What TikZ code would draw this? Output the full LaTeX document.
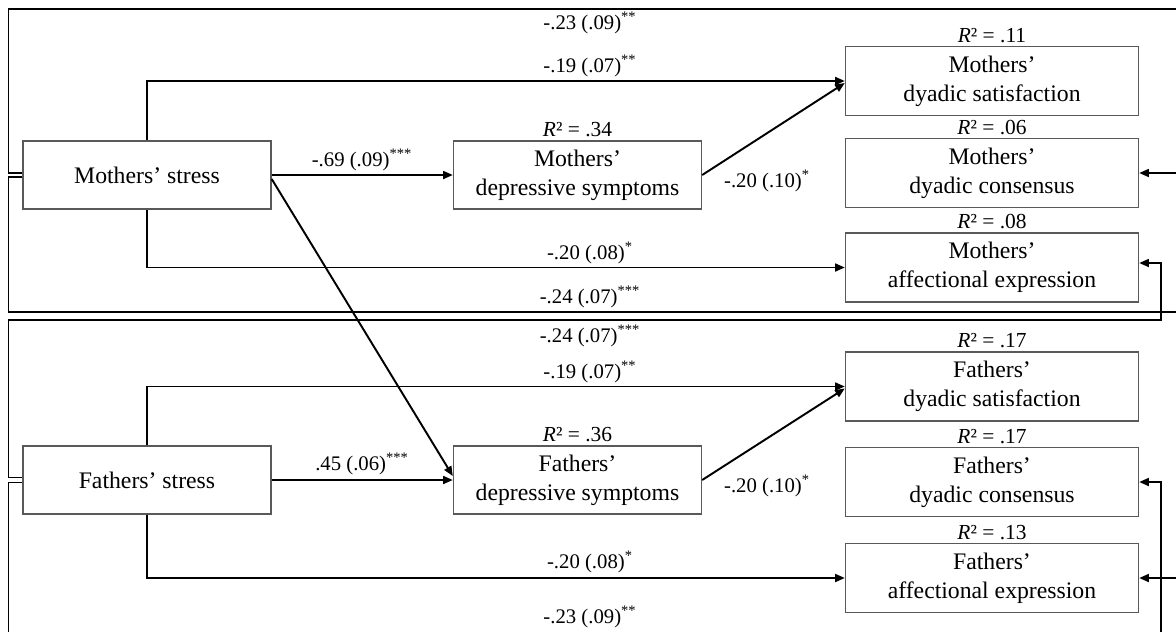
\documentclass[tikz,border=0pt]{standalone}
\usepackage{fontspec}
\setmainfont{Liberation Serif}
\usetikzlibrary{arrows.meta,positioning}

\begin{document}
\begin{tikzpicture}[
  font=\fontsize{13.5pt}{16.5pt}\selectfont,
  box/.style={draw=black!65, line width=0.8pt, align=center,
              minimum width=4.96cm, minimum height=1.36cm, inner sep=2pt},
  outc/.style={box, minimum width=5.86cm, minimum height=1.38cm},
  link/.style={draw=black, line width=1.1pt},
  arr/.style={link, -{Triangle[length=5.5pt,width=4.5pt]}},
  lab/.style={inner sep=1pt, font=\fontsize{11.8pt}{14pt}\selectfont},
  rsq/.style={inner sep=0pt, font=\fontsize{12.2pt}{14pt}\selectfont}
]
\useasboundingbox (0,0) rectangle (23.52,-12.64);

% predictors and mediators
\node[box] (ms) at (2.94,-3.50) {Mothers’ stress};
\node[box] (fs) at (2.94,-9.60) {Fathers’ stress};
\node[box] (md) at (11.55,-3.50) {Mothers’\\depressive symptoms};
\node[box] (fd) at (11.55,-9.60) {Fathers’\\depressive symptoms};

% outcomes
\node[outc] (mds) at (19.84,-1.62) {Mothers’\\dyadic satisfaction};
\node[outc] (mdc) at (19.84,-3.46) {Mothers’\\dyadic consensus};
\node[outc] (mae) at (19.84,-5.35) {Mothers’\\affectional expression};
\node[outc] (fds) at (19.84,-7.73) {Fathers’\\dyadic satisfaction};
\node[outc] (fdc) at (19.84,-9.64) {Fathers’\\dyadic consensus};
\node[outc] (fae) at (19.84,-11.56) {Fathers’\\affectional expression};

% R squared
\node[rsq, above=0.06cm of md] (rmd) {\textit{R}² = .34};
\node[rsq, above=0.06cm of fd] (rfd) {\textit{R}² = .36};
\node[rsq, above=0.06cm of mds] (rmds) {\textit{R}² = .11};
\node[rsq, above=0.06cm of mdc] (rmdc) {\textit{R}² = .06};
\node[rsq, above=0.06cm of mae] (rmae) {\textit{R}² = .08};
\node[rsq, above=0.06cm of fds] (rfds) {\textit{R}² = .17};
\node[rsq, above=0.06cm of fdc] (rfdc) {\textit{R}² = .17};
\node[rsq, above=0.06cm of fae] (rfae) {\textit{R}² = .13};

% ends of the paths that leave the figure
\coordinate (tl) at (0.17,-0.18);
\coordinate (tr) at (23.52,-0.18);
\coordinate (ml) at (0.17,-6.24);
\coordinate (mr) at (23.52,-6.24);
\coordinate (fl) at (0.17,-6.40);
\coordinate (fk) at (23.22,-6.40);
\coordinate (fb) at (0.17,-12.64);
\coordinate (eb) at (23.22,-12.64);
\coordinate (er1) at (23.52,-3.46);
\coordinate (er2) at (23.52,-11.56);

% mothers
\draw[arr] (ms.north) |- (mds.west);
\draw[arr] (ms.south) |- (mae.west);
\draw[arr] (ms) -- (md);
\draw[arr] ([yshift=-0.08cm]ms.east) -- ([yshift=0.08cm]fd.west);
\draw[arr] (md.east) -- ([yshift=-0.04cm]mds.west);
\draw[link] ([yshift=0.04cm]ms.west) -| (tl) -- (tr);
\draw[link] ([yshift=-0.04cm]ms.west) -| (ml) -- (mr);
\draw[arr] (er1) -- (mdc.east);

% fathers
\draw[arr] (fs.north) |- (fds.west);
\draw[arr] (fs.south) |- (fae.west);
\draw[arr] (fs) -- (fd);
\draw[arr] (fd.east) -- ([yshift=-0.04cm]fds.west);
\draw[arr] ([yshift=0.05cm]fs.west) -| (fl) -- (fk) |- ([yshift=0.09cm]mae.east);
\draw[link] ([yshift=-0.05cm]fs.west) -| (fb);
\draw[arr] (eb) |- (fdc.east);
\draw[arr] (er2) -- (fae.east);

% path estimates
\node[lab] (ltop) at (11.8,-0.46) {-.23 (.09)\textsuperscript{**}};
\node[lab] (lmsat) at (11.8,-1.32) {-.19 (.07)\textsuperscript{**}};
\node[lab] (lmdep) at (7.24,-3.20) {-.69 (.09)\textsuperscript{***}};
\node[lab, anchor=west] (lmmed) at (14.44,-3.62) {-.20 (.10)\textsuperscript{*}};
\node[lab] (lmaff) at (11.8,-5.06) {-.20 (.08)\textsuperscript{*}};
\node[lab] (lmx) at (11.8,-5.94) {-.24 (.07)\textsuperscript{***}};
\node[lab] (lfx) at (11.8,-6.72) {-.24 (.07)\textsuperscript{***}};
\node[lab] (lfsat) at (11.8,-7.44) {-.19 (.07)\textsuperscript{**}};
\node[lab] (lfdep) at (7.24,-9.28) {.45 (.06)\textsuperscript{***}};
\node[lab, anchor=west] (lfmed) at (14.44,-9.72) {-.20 (.10)\textsuperscript{*}};
\node[lab] (lfaff) at (11.8,-11.24) {-.20 (.08)\textsuperscript{*}};
\node[lab] (lbot) at (11.8,-12.34) {-.23 (.09)\textsuperscript{**}};
\end{tikzpicture}
\end{document}
